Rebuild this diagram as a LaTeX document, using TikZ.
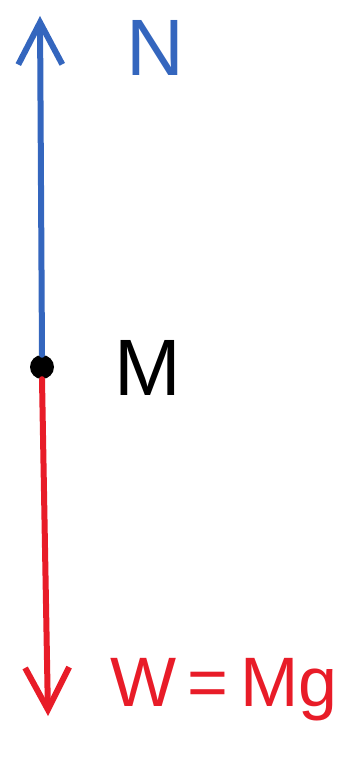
\documentclass[tikz,border=0pt]{standalone}
\usepackage{fontspec}
\setmainfont{Liberation Sans}
\usetikzlibrary{arrows.meta}
\definecolor{nblue}{RGB}{52,102,190}
\definecolor{wred}{RGB}{232,28,40}

\begin{document}
\begin{tikzpicture}[x=1pt, y=-1pt,
        force/.style={line width=6pt, line cap=round, line join=round,
                      -{Straight Barb[length=42pt, width=44pt]}},
        lbl/.style={inner sep=0pt, font=\fontsize{80}{80}\selectfont}]
        \useasboundingbox (0,0) rectangle (337,762);

                % The mass as a point
                \node[circle, fill, inner sep=0pt, minimum size=24pt] (mass) at (42, 367) {};

                % Free ends of the two forces
                \coordinate (ntip) at (40, 16);
                \coordinate (wtip) at (48, 716);

                % Normal force up, weight down
                \draw[force, nblue] (mass.north) -- (ntip);
                \draw[force, wred] (mass.south) -- (wtip);

                % Labels
                \node[lbl, text=nblue] (nlabel) at (155, 48) {N};
                \node[lbl, text=black] (mlabel) at (148, 368) {M};
                \node[lbl, text=wred, font=\fontsize{70}{70}\selectfont] (wlabel) at (224, 690) {W\,=\,Mg};
            \end{tikzpicture}
\end{document}
